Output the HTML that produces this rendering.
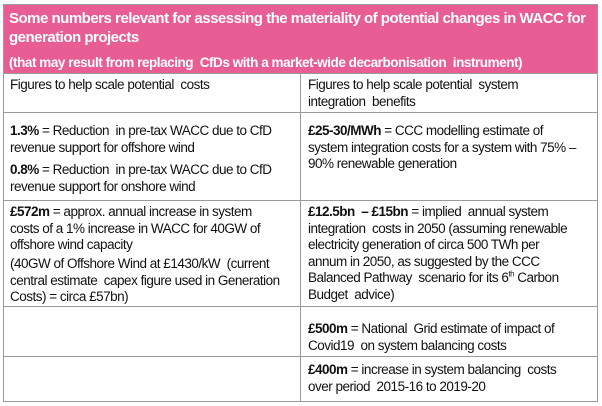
<!DOCTYPE html>
<html><head><meta charset="utf-8"><style>
body{margin:0;width:602px;height:406px;background:#fff;font-family:"Liberation Sans Narrow","Liberation Sans",sans-serif;color:#111;position:relative;overflow:hidden}
.b{position:absolute;background:#9a9a9a}
.t{position:absolute;font-size:13.5px;line-height:16.5px;letter-spacing:-0.5px;white-space:nowrap}
.pink{position:absolute;left:3px;top:4px;width:595px;height:69px;background:#e95d95}
.w{color:#fff}
sup{font-size:8px;line-height:0}
</style></head><body>
<div class="pink"></div>
<div class="t w" style="left:9px;top:9px;font-size:15px;line-height:19px;font-weight:bold;letter-spacing:-0.5px">Some numbers relevant for assessing the materiality of potential changes in WACC for<br>generation projects</div>
<div class="t w" style="left:9px;top:55px;font-weight:bold;letter-spacing:-0.45px">(that may result from replacing &nbsp;CfDs with a market-wide decarbonisation &nbsp;instrument)</div>
<div class="b" style="left:3px;top:4px;width:595px;height:1px"></div>
<div class="b" style="left:3px;top:4px;width:1px;height:398px"></div>
<div class="b" style="left:597px;top:4px;width:1px;height:398px"></div>
<div class="b" style="left:3px;top:73px;width:595px;height:1px"></div>
<div class="b" style="left:3px;top:112px;width:595px;height:1px"></div>
<div class="b" style="left:3px;top:200px;width:595px;height:1px"></div>
<div class="b" style="left:3px;top:306px;width:595px;height:1px"></div>
<div class="b" style="left:3px;top:356px;width:595px;height:1px"></div>
<div class="b" style="left:3px;top:401px;width:595px;height:1px"></div>
<div class="b" style="left:300px;top:73px;width:1px;height:329px"></div>

<div class="t" style="left:10px;top:77px">Figures to help scale potential &nbsp;costs</div>
<div class="t" style="left:308px;top:77px">Figures to help scale potential &nbsp;system<br>integration &nbsp;benefits</div>

<div class="t" style="left:10px;top:123px"><b>1.3%</b> = Reduction &nbsp;in pre-tax WACC due to CfD<br>revenue support for offshore wind</div>
<div class="t" style="left:10px;top:162px"><b>0.8%</b> = Reduction &nbsp;in pre-tax WACC due to CfD<br>revenue support for onshore wind</div>
<div class="t" style="left:308px;top:123px"><b>£25-30/MWh</b> = CCC modelling estimate of<br>system integration costs for a system with 75% –<br>90% renewable generation</div>

<div class="t" style="left:10px;top:204px"><b>£572m</b> = approx. annual increase in system<br>costs of a 1% increase in WACC for 40GW of<br>offshore wind capacity</div>
<div class="t" style="left:10px;top:256px">(40GW of Offshore Wind at £1430/kW &nbsp;(current<br>central estimate &nbsp;capex figure used in Generation<br>Costs) = circa £57bn)</div>
<div class="t" style="left:308px;top:204px"><b>£12.5bn &nbsp;– £15bn</b> = implied &nbsp;annual system<br>integration &nbsp;costs in 2050 (assuming renewable<br>electricity generation of circa 500 TWh per<br>annum in 2050, as suggested by the CCC<br>Balanced Pathway &nbsp;scenario for its 6<sup>th</sup> Carbon<br>Budget &nbsp;advice)</div>

<div class="t" style="left:308px;top:321px"><b>£500m</b> = National &nbsp;Grid estimate of impact of<br>Covid19 &nbsp;on system balancing costs</div>
<div class="t" style="left:308px;top:362px"><b>£400m</b> = increase in system balancing &nbsp;costs<br>over period &nbsp;2015-16 to 2019-20</div>
</body></html>
